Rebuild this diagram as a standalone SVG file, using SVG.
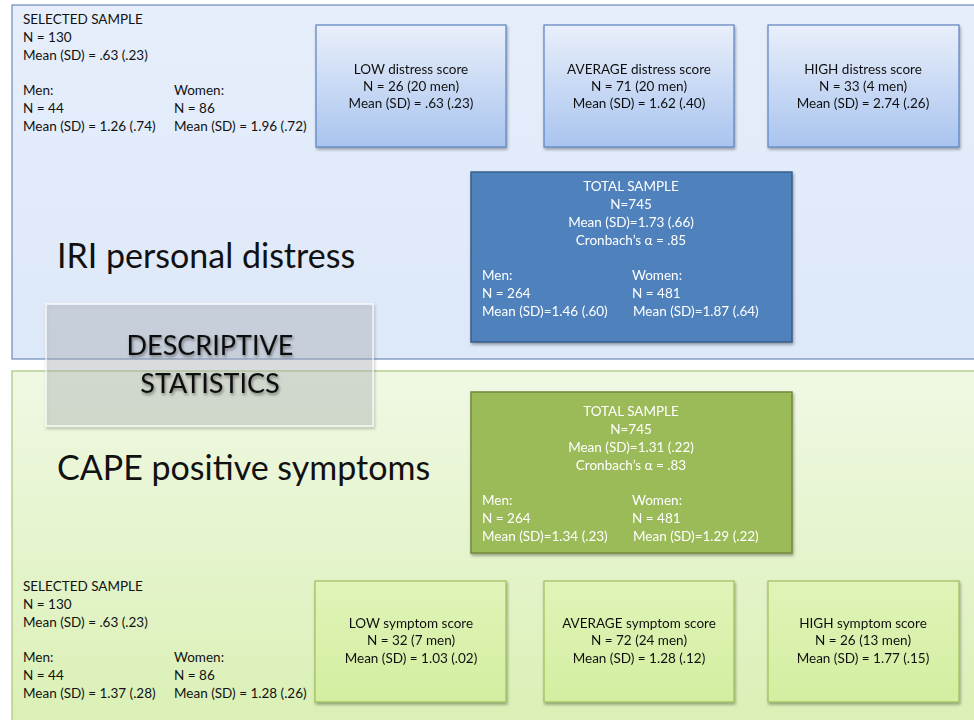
<svg xmlns="http://www.w3.org/2000/svg" width="974" height="720" viewBox="0 0 974 720">
<defs>
<linearGradient id="gBluePanel" x1="0" y1="0" x2="0" y2="1"><stop offset="0" stop-color="#e6eefb"/><stop offset="1" stop-color="#dde8f8"/></linearGradient>
<linearGradient id="gGreenPanel" x1="0" y1="0" x2="0" y2="1"><stop offset="0" stop-color="#f0f8e4"/><stop offset="1" stop-color="#daf0b4"/></linearGradient>
<linearGradient id="gBlueBox" x1="0" y1="0" x2="0" y2="1"><stop offset="0" stop-color="#e9effa"/><stop offset="1" stop-color="#a9c4ef"/></linearGradient>
<linearGradient id="gGreenBox" x1="0" y1="0" x2="0" y2="1"><stop offset="0" stop-color="#e0f4b8"/><stop offset="1" stop-color="#d3eea0"/></linearGradient>
<filter id="sh" x="-10%" y="-10%" width="120%" height="130%"><feDropShadow dx="1" dy="2" stdDeviation="1.5" flood-color="#000" flood-opacity="0.35"/></filter>
<filter id="tsh" x="-10%" y="-20%" width="120%" height="150%"><feDropShadow dx="1" dy="2" stdDeviation="1.5" flood-color="#000" flood-opacity="0.45"/></filter>
</defs>
<style>
text{font-family:Lato,"Liberation Sans",sans-serif;font-size:13.5px;fill:#111}
.c{text-anchor:middle}
.w{fill:#fff}
.big{font-size:34px;fill:#111}
.ds{font-size:27px;text-anchor:middle;fill:#111}
.bb{fill:url(#gBlueBox);stroke:#5a82c0;stroke-width:1.2}
.gb{fill:url(#gGreenBox);stroke:#9dbd5c;stroke-width:1.2}
</style>
<rect width="974" height="720" fill="#ffffff"/>
<g id="panel-iri">
<rect x="12" y="5" width="970" height="354" fill="url(#gBluePanel)" stroke="#6a8bbb" stroke-width="1.2"/>
<text class="big" x="57" y="268">IRI personal distress</text>
</g>
<g id="panel-cape">
<rect x="12" y="371" width="970" height="360" fill="url(#gGreenPanel)" stroke="#a8c47a" stroke-width="1.2"/>
<text class="big" x="57" y="480">CAPE positive symptoms</text>
</g>
<g id="iri-selected">
<text x="23" y="24">SELECTED SAMPLE</text>
<text x="23" y="42">N = 130</text>
<text x="23" y="60">Mean (SD) = .63 (.23)</text>
<text x="23" y="95">Men:</text>
<text x="23" y="113">N = 44</text>
<text x="23" y="131">Mean (SD) = 1.26 (.74)</text>
<text x="174" y="95">Women:</text>
<text x="174" y="113">N = 86</text>
<text x="174" y="131">Mean (SD) = 1.96 (.72)</text>
</g>
<g id="iri-low" filter="url(#sh)">
<rect class="bb" x="316" y="25" width="190" height="122"/>
<text class="c" x="411" y="74">LOW distress score</text>
<text class="c" x="411" y="91">N = 26 (20 men)</text>
<text class="c" x="411" y="108">Mean (SD) = .63 (.23)</text>
</g>
<g id="iri-average" filter="url(#sh)">
<rect class="bb" x="544" y="25" width="190" height="122"/>
<text class="c" x="639" y="74">AVERAGE distress score</text>
<text class="c" x="639" y="91">N = 71 (20 men)</text>
<text class="c" x="639" y="108">Mean (SD) = 1.62 (.40)</text>
</g>
<g id="iri-high" filter="url(#sh)">
<rect class="bb" x="768" y="25" width="191" height="122"/>
<text class="c" x="863" y="74">HIGH distress score</text>
<text class="c" x="863" y="91">N = 33 (4 men)</text>
<text class="c" x="863" y="108">Mean (SD) = 2.74 (.26)</text>
</g>
<g id="iri-total" filter="url(#sh)">
<rect x="471" y="172" width="321" height="170" fill="#4f81bd" stroke="#385d8a" stroke-width="1.5"/>
<text class="c w" x="631" y="191">TOTAL SAMPLE</text>
<text class="c w" x="631" y="209">N=745</text>
<text class="c w" x="631" y="227">Mean (SD)=1.73 (.66)</text>
<text class="c w" x="631" y="245">Cronbach’s α = .85</text>
<text class="w" x="482" y="280">Men:</text>
<text class="w" x="482" y="298">N = 264</text>
<text class="w" x="482" y="316">Mean (SD)=1.46 (.60)</text>
<text class="w" x="632" y="280">Women:</text>
<text class="w" x="632" y="298">N = 481</text>
<text class="w" x="633" y="316">Mean (SD)=1.87 (.64)</text>
</g>
<g id="cape-total" filter="url(#sh)">
<rect x="471" y="392" width="321" height="161" fill="#9bbb59" stroke="#71893f" stroke-width="1.5"/>
<text class="c w" x="631" y="416">TOTAL SAMPLE</text>
<text class="c w" x="631" y="434">N=745</text>
<text class="c w" x="631" y="452">Mean (SD)=1.31 (.22)</text>
<text class="c w" x="631" y="470">Cronbach’s α = .83</text>
<text class="w" x="482" y="505">Men:</text>
<text class="w" x="482" y="523">N = 264</text>
<text class="w" x="482" y="541">Mean (SD)=1.34 (.23)</text>
<text class="w" x="632" y="505">Women:</text>
<text class="w" x="632" y="523">N = 481</text>
<text class="w" x="633" y="541">Mean (SD)=1.29 (.22)</text>
</g>
<g id="cape-selected">
<text x="23" y="591">SELECTED SAMPLE</text>
<text x="23" y="609">N = 130</text>
<text x="23" y="627">Mean (SD) = .63 (.23)</text>
<text x="23" y="662">Men:</text>
<text x="23" y="680">N = 44</text>
<text x="23" y="698">Mean (SD) = 1.37 (.28)</text>
<text x="174" y="662">Women:</text>
<text x="174" y="680">N = 86</text>
<text x="174" y="698">Mean (SD) = 1.28 (.26)</text>
</g>
<g id="cape-low" filter="url(#sh)">
<rect class="gb" x="315" y="581" width="191" height="121"/>
<text class="c" x="411" y="628">LOW symptom score</text>
<text class="c" x="411" y="645">N = 32 (7 men)</text>
<text class="c" x="411" y="663">Mean (SD) = 1.03 (.02)</text>
</g>
<g id="cape-average" filter="url(#sh)">
<rect class="gb" x="544" y="581" width="190" height="121"/>
<text class="c" x="639" y="628">AVERAGE symptom score</text>
<text class="c" x="639" y="645">N = 72 (24 men)</text>
<text class="c" x="639" y="663">Mean (SD) = 1.28 (.12)</text>
</g>
<g id="cape-high" filter="url(#sh)">
<rect class="gb" x="768" y="581" width="191" height="121"/>
<text class="c" x="863" y="628">HIGH symptom score</text>
<text class="c" x="863" y="645">N = 26 (13 men)</text>
<text class="c" x="863" y="663">Mean (SD) = 1.77 (.15)</text>
</g>
<g id="descriptive-statistics">
<rect x="46" y="304" width="327" height="122" fill="#b8bcc4" fill-opacity="0.35" stroke="#ffffff" stroke-opacity="0.8" stroke-width="1.5" filter="url(#sh)"/>
<text class="ds" x="210" y="355" filter="url(#tsh)">DESCRIPTIVE</text>
<text class="ds" x="210" y="393" filter="url(#tsh)">STATISTICS</text>
</g>
<g id="connectors"></g>
</svg>
